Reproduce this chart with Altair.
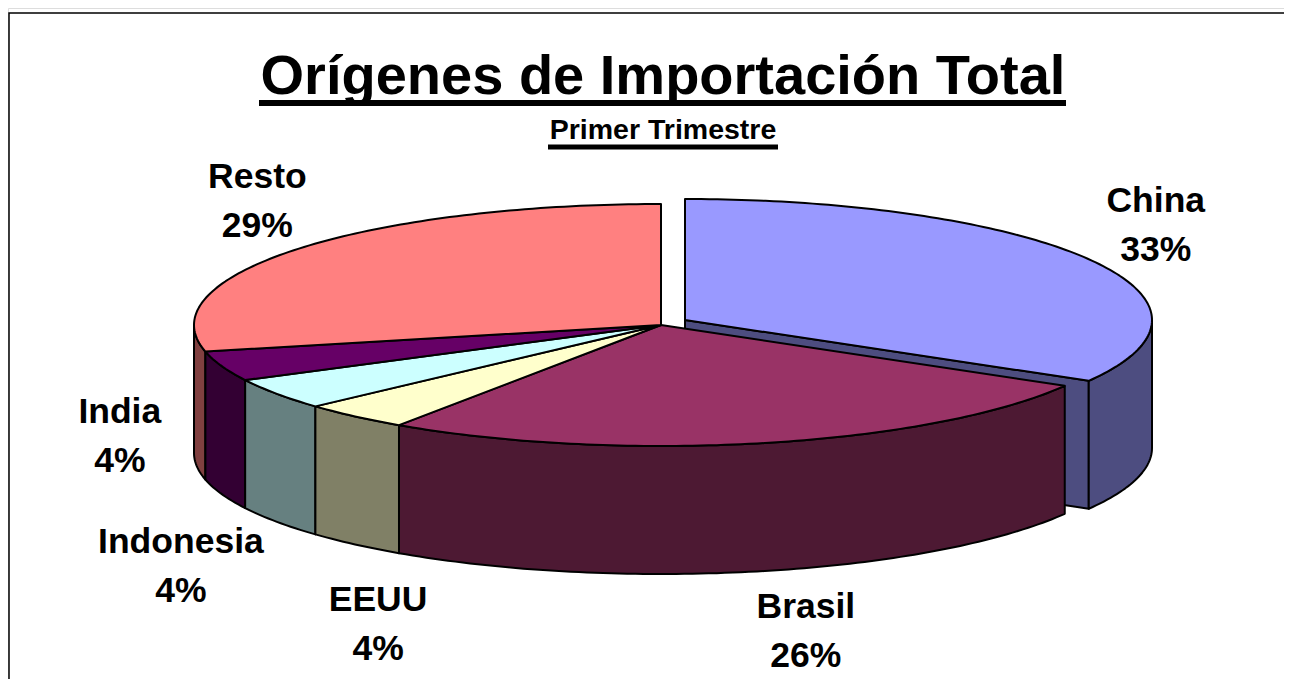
import math
import altair as alt
import pandas as pd

# ---- data ----
categories = ["China", "Brasil", "EEUU", "Indonesia", "India", "Resto"]
shares = [33.38, 26.1, 3.78, 4.22, 4.0, 28.52]
top_colors = ["#9999FF", "#993366", "#FFFFCC", "#CCFFFF", "#660066", "#FF8080"]
wall_colors = ["#4D4D80", "#4D1933", "#808066", "#668080", "#330033", "#804040"]

title_text = "Orígenes de Importación Total"
subtitle_text = "Primer Trimestre"

# ---- layout ----
W, H = 1276, 671
X0, Y0 = 8, 8
RX, RY, DEPTH = 467, 121, 128
CENTERS = {"China": (685, 320)}
CENTER = (661, 325)
LABEL_OFFSETS = {  # dx, dy from the rim point at a slice's mid-angle
    "China": (66, -59), "Brasil": (41, 164), "EEUU": (23, 184),
    "Indonesia": (-96, 148), "India": (-102, 46), "Resto": (-39, -72),
}

xs = alt.Scale(domain=[X0, X0 + W], nice=False, zero=False)
ys = alt.Scale(domain=[Y0 + H, Y0], nice=False, zero=False)
X = lambda f="x": alt.X(f"{f}:Q", scale=xs, axis=None)
Y = lambda f="y": alt.Y(f"{f}:Q", scale=ys, axis=None)


def rim(c, deg, drop=0.0):
    t = math.radians(deg)
    return c[0] + RX * math.sin(t), c[1] - RY * math.cos(t) + drop


def arc(c, a, b, drop=0.0):
    n = max(2, int(abs(b - a)) + 2)
    return [rim(c, a + (b - a) * i / (n - 1), drop) for i in range(n)]


def poly(points, fill):
    pts = list(points) + [points[0]]
    df = pd.DataFrame({"x": [p[0] for p in pts], "y": [p[1] for p in pts],
                       "i": range(len(pts))})
    return alt.Chart(df).mark_line(
        stroke="black", strokeWidth=2, strokeJoin="round", clip=False,
    ).encode(x=X(), y=Y(), order="i:Q", fill=alt.value(fill))


# slice angles from the shares
spans = {}
acc = 0.0
for name, s in zip(categories, shares):
    spans[name] = (acc * 3.6, (acc + s) * 3.6)
    acc += s

layers = []

# exploded China slice: cut face, outer wall
ca, cb = spans["China"]
cc = CENTERS["China"]
edge = rim(cc, cb)
layers.append(poly([cc, edge, (edge[0], edge[1] + DEPTH), (cc[0], cc[1] + DEPTH)], wall_colors[0]))
wall = arc(cc, 90, cb) + arc(cc, cb, 90, DEPTH)
layers.append(poly(wall, wall_colors[0]))
layers.append(poly([cc] + arc(cc, ca, cb), top_colors[0]))

# walls of the rest, back to front from both sides
for name in ["Resto", "India", "Indonesia", "EEUU", "Brasil"]:
    i = categories.index(name)
    a, b = spans[name]
    if name == "Resto":
        b = 270
    a2 = max(a, 90)
    layers.append(poly(arc(CENTER, a2, b) + arc(CENTER, b, a2, DEPTH), wall_colors[i]))

# tops
for name in ["Brasil", "EEUU", "Indonesia", "India", "Resto"]:
    i = categories.index(name)
    a, b = spans[name]
    layers.append(poly([CENTER] + arc(CENTER, a, b), top_colors[i]))

# slice labels
for name, s in zip(categories, shares):
    a, b = spans[name]
    c = cc if name == "China" else CENTER
    px, py = rim(c, (a + b) / 2)
    dx, dy = LABEL_OFFSETS[name]
    df = pd.DataFrame({"x": [px], "y": [py], "t": [f"{name}\n{round(s)}%"]})
    layers.append(
        alt.Chart(df).mark_text(
            font="Liberation Sans", fontWeight="bold", fontSize=35.5, color="black",
            lineBreak="\n", lineHeight=49, align="center", baseline="middle",
            dx=dx, dy=dy,
        ).encode(x=X(), y=Y(), text="t:N")
    )

# titles with underlines
title_df = pd.DataFrame({"x": [663], "y": [77], "t": [title_text]})
layers.append(alt.Chart(title_df).mark_text(
    font="Liberation Sans", fontWeight="bold", fontSize=56, color="black",
    align="center", baseline="middle").encode(x=X(), y=Y(), text="t:N"))
sub_df = pd.DataFrame({"x": [663], "y": [130], "t": [subtitle_text]})
layers.append(alt.Chart(sub_df).mark_text(
    font="Liberation Sans", fontWeight="bold", fontSize=28.5, color="black",
    align="center", baseline="middle").encode(x=X(), y=Y(), text="t:N"))

rules = pd.DataFrame({"x": [259, 548], "x2": [1066, 778], "y": [103, 147], "w": [6, 5]})
for _, r in rules.iterrows():
    layers.append(alt.Chart(pd.DataFrame([r])).mark_rule(color="black", strokeWidth=float(r.w)).encode(
        x=X(), x2="x2:Q", y=Y()))

# chart frame (top and left; runs off the picture on the other sides)
frame = pd.DataFrame({"x": [9, 9, X0 + W], "y": [Y0 + H, 13, 13], "i": [0, 1, 2]})
layers.append(alt.Chart(frame).mark_line(color="black", strokeWidth=1.5).encode(x=X(), y=Y(), order="i:Q"))

chart = alt.layer(*layers).properties(
    width=W, height=H, padding=0, autosize=alt.AutoSizeParams(type="none"),
).configure_view(stroke=None).configure(background="white")

chart.save("out.html", embed_options={"renderer": "svg", "actions": False})
